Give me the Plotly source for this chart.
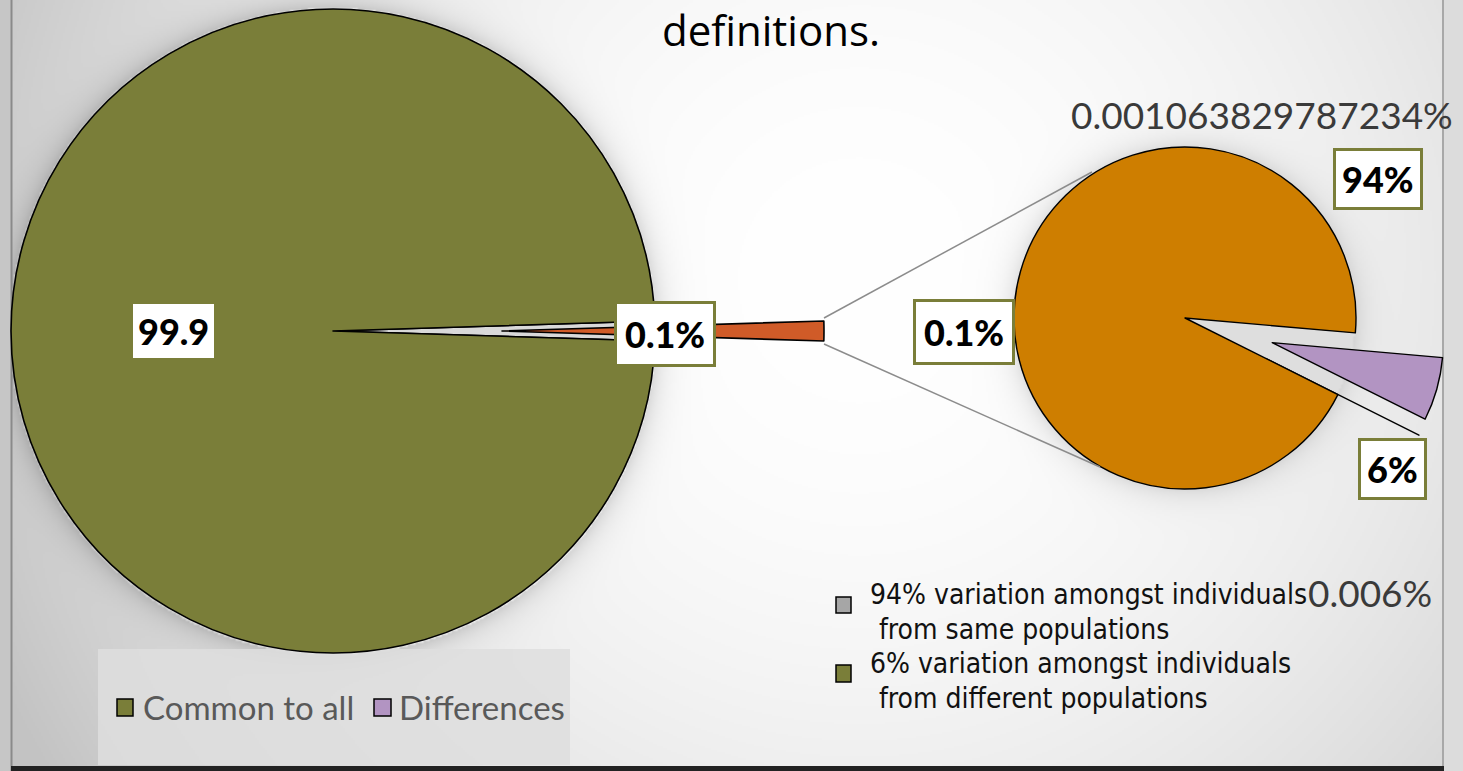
import base64, struct, zlib
import numpy as np
import plotly.graph_objects as go

W, H = 1463, 771

# ---------------- data ----------------
second_labels = ["6% variation amongst individuals from different populations",
                 "residual",
                 "94% variation amongst individuals from same populations"]
second_values = [0.06, 0.00001063829787234, 0.94]
second_text = ["6%", "0.001063829787234%", "94%"]

first_labels = ["Differences", "Common to all"]
first_values = [sum(second_values), 99.9]
first_text = ["0.1%", "99.9"]
other_text = "0.1%"
extra_text = "0.006%"

legend1_labels = ["Common to all", "Differences"]
legend2_lines = [["94% variation amongst individuals", "from same populations"],
                 ["6% variation amongst individuals", "from different populations"]]

# ---------------- colours ----------------
OLIVE = "#7A7E39"
ORANGE_SMALL = "#D05B28"
ORANGE = "#CE7E00"
PURPLE = "#B294C2"
GAP = "#D9D9D9"


def px(x):
    return x / W


def py(y):
    return 1 - y / H


# ---------------- background image (gradient + soft shadows) ----------------
hs, ws = H // 2, W // 2 + 1
yy, xx = np.mgrid[0:hs, 0:ws].astype(float)
xx = xx * 2 + 1
yy = yy * 2 + 1
bg = 255 - 6.6e-5 * ((xx - 860) ** 2 + (yy - 280) ** 2)
bg = np.clip(bg, 196, 255)
for cx, cy, r, s in [(333, 331, 323, 34), (1185, 318, 171, 26)]:
    d = np.sqrt((xx - cx) ** 2 + (yy - cy) ** 2)
    sh = np.where(d > r, s * np.exp(-(d - r) / 12.0), 0)
    bg = bg - sh
d2 = np.sqrt((xx - 1185) ** 2 + (yy - 318) ** 2)
bg = np.where(d2 <= 171, 222, bg)
bg = np.clip(bg, 0, 255).astype(np.uint8)


def png_gray(arr):
    h, w = arr.shape
    raw = b"".join(b"\x00" + arr[i].tobytes() for i in range(h))

    def chunk(t, d):
        c = struct.pack(">I", len(d)) + t + d
        return c + struct.pack(">I", zlib.crc32(t + d) & 0xFFFFFFFF)

    ihdr = struct.pack(">IIBBBBB", w, h, 8, 0, 0, 0, 0)
    return (b"\x89PNG\r\n\x1a\n" + chunk(b"IHDR", ihdr)
            + chunk(b"IDAT", zlib.compress(raw, 9)) + chunk(b"IEND", b""))


bg_uri = "data:image/png;base64," + base64.b64encode(png_gray(bg)).decode()

# ---------------- pies ----------------
fig = go.Figure()

small_frac = first_values[0] / sum(first_values)
rot_left = 90 - 180 * small_frac

R1 = 322
c1 = (333, 331)
fig.add_trace(go.Pie(
    labels=first_labels, values=first_values, sort=False, direction="clockwise",
    rotation=rot_left, textinfo="none", hoverinfo="label+value", showlegend=False,
    marker=dict(colors=[GAP, OLIVE], line=dict(color="black", width=1.6)),
    domain=dict(x=[px(c1[0] - R1), px(c1[0] + R1)], y=[py(c1[1] + R1), py(c1[1] - R1)]),
))
c1b = (502, 331)
fig.add_trace(go.Pie(
    labels=first_labels, values=first_values, sort=False, direction="clockwise",
    rotation=rot_left, textinfo="none", hoverinfo="label+value", showlegend=False,
    marker=dict(colors=[ORANGE_SMALL, "rgba(0,0,0,0)"],
                line=dict(color=["black", "rgba(0,0,0,0)"], width=[1.6, 0])),
    domain=dict(x=[px(c1b[0] - R1), px(c1b[0] + R1)], y=[py(c1b[1] + R1), py(c1b[1] - R1)]),
))

R2 = 171
pull2 = 0.53
c2 = (1185, 318)
half2 = R2 * (1 + pull2)
fig.add_trace(go.Pie(
    labels=second_labels, values=second_values, sort=False, direction="clockwise",
    rotation=95, textinfo="none", hoverinfo="label+percent", showlegend=False,
    pull=[pull2, pull2, 0],
    marker=dict(colors=[PURPLE, "#FFFFFF", ORANGE], line=dict(color="black", width=1.4)),
    domain=dict(x=[px(c2[0] - half2), px(c2[0] + half2)], y=[py(c2[1] + half2), py(c2[1] - half2)]),
))

# ---------------- shapes (frame, legend box, connector lines) ----------------
shapes = [
    dict(type="rect", xref="paper", yref="paper", x0=0, x1=px(11), y0=0, y1=1,
         fillcolor="#C6C6C6", line=dict(width=0), layer="below"),
    dict(type="line", xref="paper", yref="paper", x0=px(11.5), x1=px(11.5), y0=0, y1=1,
         line=dict(color="#8A8A8A", width=2), layer="below"),
    dict(type="rect", xref="paper", yref="paper", x0=px(1443), x1=1, y0=0, y1=1,
         fillcolor="#DCDCDC", line=dict(width=0), layer="below"),
    dict(type="line", xref="paper", yref="paper", x0=px(1443), x1=px(1443), y0=0, y1=1,
         line=dict(color="#A8A8A8", width=2), layer="below"),
    dict(type="rect", xref="paper", yref="paper", x0=px(98), x1=px(570), y0=py(765), y1=py(649),
         fillcolor="rgba(222,222,222,0.85)", line=dict(width=0), layer="below"),
    dict(type="rect", xref="paper", yref="paper", x0=px(11), x1=px(1444), y0=0, y1=py(766),
         fillcolor="#222222", line=dict(width=0), layer="below"),
    dict(type="line", xref="paper", yref="paper", x0=px(824), y0=py(318), x1=px(1092), y1=py(172),
         line=dict(color="#8C8C8C", width=1.5)),
    dict(type="line", xref="paper", yref="paper", x0=px(824), y0=py(344), x1=px(1100), y1=py(467),
         line=dict(color="#8C8C8C", width=1.5)),
    # legend keys
    dict(type="rect", xref="paper", yref="paper", x0=px(117), x1=px(133), y0=py(716), y1=py(699),
         fillcolor=OLIVE, line=dict(color="black", width=1.5)),
    dict(type="rect", xref="paper", yref="paper", x0=px(374), x1=px(391), y0=py(716), y1=py(699),
         fillcolor=PURPLE, line=dict(color="black", width=1.5)),
    dict(type="rect", xref="paper", yref="paper", x0=px(836), x1=px(851), y0=py(613), y1=py(597),
         fillcolor="#A6A6A6", line=dict(color="black", width=1.5)),
    dict(type="rect", xref="paper", yref="paper", x0=px(836), x1=px(851), y0=py(682), y1=py(665),
         fillcolor=OLIVE, line=dict(color="black", width=1.5)),
]

# ---------------- annotations ----------------
BOLD = dict(family="Lato, Noto Sans, sans-serif", size=36, color="black", weight=900)
ann = []


def box(text, x, y, border=True, pad=8):
    ann.append(dict(text=text, x=px(x), y=py(y), xref="paper", yref="paper",
                    xanchor="center", yanchor="middle", showarrow=False, font=BOLD,
                    bgcolor="white", bordercolor=OLIVE if border else "white",
                    borderwidth=3 if border else 0, borderpad=pad))


box(first_text[1], 173, 331, border=False, pad=5)
box(first_text[0], 665, 334)
box(other_text, 964, 332)
box(second_text[2], 1378, 179, pad=6)
box(second_text[0], 1392, 469, pad=6)

ann.append(dict(text="definitions.", x=px(771), y=1, xref="paper", yref="paper",
                xanchor="center", yanchor="top", showarrow=False, borderpad=0,
                font=dict(family="Open Sans, sans-serif", size=42, color="black")))
ann.append(dict(text=second_text[1], x=px(1262), y=py(114), xref="paper", yref="paper",
                xanchor="center", yanchor="middle", showarrow=False,
                font=dict(family="Lato, sans-serif", size=37, color="#3A3A3A")))
ann.append(dict(text=extra_text, x=px(1306), y=py(592), xref="paper", yref="paper",
                xanchor="left", yanchor="middle", showarrow=False,
                font=dict(family="Lato, sans-serif", size=37, color="#3A3A3A")))

LEG1 = dict(family="Lato, sans-serif", size=33, color="#595959")
ann.append(dict(text=legend1_labels[0], x=px(141), y=py(707), xref="paper", yref="paper",
                xanchor="left", yanchor="middle", showarrow=False, font=LEG1))
ann.append(dict(text=legend1_labels[1], x=px(397), y=py(707), xref="paper", yref="paper",
                xanchor="left", yanchor="middle", showarrow=False, font=LEG1))

LEG2 = dict(family="Liberation Sans Narrow, DejaVu Sans Condensed, sans-serif", size=28, color="#111111")
for i, (l1, l2) in enumerate(legend2_lines):
    y0 = 594 + i * 69
    ann.append(dict(text=l1, x=px(868), y=py(y0), xref="paper", yref="paper",
                    xanchor="left", yanchor="middle", showarrow=False, font=LEG2))
    ann.append(dict(text=l2, x=px(877), y=py(y0 + 35), xref="paper", yref="paper",
                    xanchor="left", yanchor="middle", showarrow=False, font=LEG2))

fig.update_layout(
    width=W, height=H, margin=dict(l=0, r=0, t=0, b=0),
    paper_bgcolor="#EEEEEE", plot_bgcolor="rgba(0,0,0,0)",
    showlegend=False, shapes=shapes, annotations=ann,
    images=[dict(source=bg_uri, xref="paper", yref="paper", x=0, y=1, sizex=1, sizey=1,
                 xanchor="left", yanchor="top", sizing="stretch", layer="below")],
)

fig.write_html("out.html", config={"displayModeBar": False},
               post_script="document.body.style.margin='0';document.body.style.overflow='hidden';")
